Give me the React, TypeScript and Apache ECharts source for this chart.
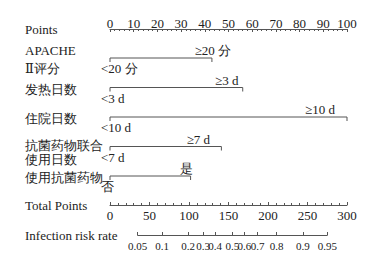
import React, { useEffect, useRef } from "react";
import * as echarts from "echarts";

const variables = ["APACHE Ⅱ评分", "发热日数", "住院日数", "抗菌药物联合使用日数", "使用抗菌药物"];
const maxPoints = [43, 56, 100, 47, 34];
const highLabels = ["≥20 分", "≥3 d", "≥10 d", "≥7 d", "是"];
const lowLabels = ["<20 分", "<3 d", "<10 d", "<7 d", "否"];
const riskValues = ["0.05", "0.1", "0.2", "0.3", "0.4", "0.5", "0.6", "0.7", "0.8", "0.9", "0.95"];
const riskPoints = [35, 66, 99, 118, 133, 155, 170, 187, 211, 244, 275];
const pointsRange = [0, 100];
const totalRange = [0, 300];

// layout (pixels)
const W = 382;
const H = 258;
const plotLeft = 110;
const plotRight = 35;
const highDx = [1, -16, -27, -23, -4];
const FONT = "Times New Roman, Liberation Serif, DejaVu Serif, serif";
const TXT = "#222";
const LINE = "#555";

export default function App() {
  const ref = useRef<HTMLDivElement>(null);
  useEffect(() => {
    if (!ref.current) return;
    const chart = echarts.init(ref.current, undefined, { renderer: "svg" });
    const plotW = W - plotLeft - plotRight;
    const pxPerTotal = plotW / (totalRange[1] - totalRange[0]);
    const riskLeft = plotLeft + (riskPoints[0] - totalRange[0]) * pxPerTotal;
    const riskRight = W - (plotLeft + (riskPoints[riskPoints.length - 1] - totalRange[0]) * pxPerTotal);
    const baseText = { fontFamily: FONT, fontSize: 13, color: TXT };
    const tickText = { fontFamily: FONT, fontSize: 13, color: TXT };

    const nameStyle = (gap: number) => ({
      nameLocation: "start" as const,
      nameGap: gap,
      nameTextStyle: { ...baseText, align: "left", verticalAlign: "middle", padding: [4, 0, 0, 0] },
    });

    const rowFormatter = (v: string) => {
      if (v === variables[0]) return "{a1|APACHE}\n{a|Ⅱ评分}";
      if (v === variables[3]) return "{sp|}\n{b|抗菌药物联合}\n{b|使用日数}";
      return "{c|" + v + "}";
    };

    const series: any[] = variables.map((v, i) => ({
      type: "line",
      xAxisIndex: 1,
      yAxisIndex: 1,
      symbol: "rect",
      symbolSize: [1, 4],
      symbolOffset: [0, 2],
      itemStyle: { color: LINE },
      lineStyle: { color: LINE, width: 1 },
      silent: true,
      data: [
        {
          value: [0, v],
          label: {
            show: true,
            position: "bottom",
            distance: 0,
            align: "left",
            offset: [-9, 0],
            formatter: lowLabels[i],
            ...baseText,
          },
        },
        {
          value: [maxPoints[i], v],
          label: {
            show: true,
            position: "top",
            distance: 1,
            offset: [highDx[i], 0],
            formatter: highLabels[i],
            ...baseText,
          },
        },
      ],
    }));

    chart.setOption({
      animation: false,
      backgroundColor: "#fff",
      grid: [
        { left: plotLeft, right: plotRight, top: 28, height: 1 },
        { left: plotLeft, right: plotRight, top: 43.25, height: 147.5 },
        { left: plotLeft, right: plotRight, top: 204, height: 1 },
        { left: riskLeft, right: riskRight, top: 234, height: 1 },
      ],
      xAxis: [
        {
          gridIndex: 0,
          type: "value",
          position: "top",
          min: pointsRange[0],
          max: pointsRange[1],
          interval: 10,
          name: "Points",
          ...nameStyle(plotLeft - 25),
          axisLine: { show: true, lineStyle: { color: LINE, width: 1 } },
          axisTick: { show: true, inside: true, length: 3, lineStyle: { color: LINE } },
          minorTick: { show: true, splitNumber: 5, length: 2, lineStyle: { color: LINE } },
          splitLine: { show: false },
          axisLabel: { ...tickText, margin: -2 },
        },
        {
          gridIndex: 1,
          type: "value",
          min: pointsRange[0],
          max: pointsRange[1],
          show: false,
        },
        {
          gridIndex: 2,
          type: "value",
          position: "bottom",
          min: totalRange[0],
          max: totalRange[1],
          interval: 50,
          name: "Total Points",
          ...nameStyle(plotLeft - 25),
          axisLine: { show: true, lineStyle: { color: LINE, width: 1 } },
          axisTick: { show: true, inside: true, length: 3, lineStyle: { color: LINE } },
          minorTick: { show: true, splitNumber: 5, length: 2, lineStyle: { color: LINE } },
          splitLine: { show: false },
          axisLabel: { ...tickText, margin: 4 },
        },
        {
          gridIndex: 3,
          type: "value",
          position: "bottom",
          min: riskPoints[0],
          max: riskPoints[riskPoints.length - 1],
          name: "Infection risk rate",
          ...nameStyle(riskLeft - 25),
          axisLine: { show: true, lineStyle: { color: LINE, width: 1 } },
          axisTick: { show: true, inside: true, length: 3, lineStyle: { color: LINE }, customValues: riskPoints },
          splitLine: { show: false },
          axisLabel: {
            ...tickText,
            fontSize: 11,
            margin: 5,
            hideOverlap: false,
            customValues: riskPoints,
            formatter: (val: number) => {
              const idx = riskPoints.indexOf(val);
              return idx >= 0 ? riskValues[idx] : "";
            },
          },
        },
      ],
      yAxis: [
        { gridIndex: 0, type: "value", show: false },
        {
          gridIndex: 1,
          type: "category",
          inverse: true,
          data: variables,
          axisLine: { show: false },
          axisTick: { show: false },
          splitLine: { show: false },
          axisLabel: {
            show: true,
            align: "left",
            margin: plotLeft - 25,
            formatter: rowFormatter,
            rich: {
              a1: { ...baseText, lineHeight: 20, padding: [4, 0, 0, 0] },
              a: { ...baseText, lineHeight: 20 },
              sp: { ...baseText, fontSize: 1, lineHeight: 12 },
              b: { ...baseText, lineHeight: 14 },
              c: { ...baseText, lineHeight: 16, padding: [3, 0, 0, 0] },
            },
          },
        },
        { gridIndex: 2, type: "value", show: false },
        { gridIndex: 3, type: "value", show: false },
      ],
      series,
    });
    return () => chart.dispose();
  }, []);
  return (
    <div
      ref={ref}
      style={{ position: "absolute", left: 0, top: 0, width: W, height: H, background: "#fff" }}
    />
  );
}
